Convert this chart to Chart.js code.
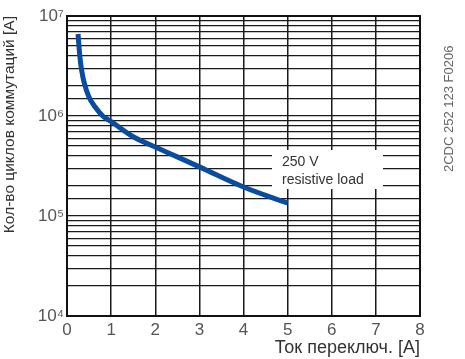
<!DOCTYPE html>
<html>
<head>
<meta charset="utf-8">
<script src="https://cdn.jsdelivr.net/npm/chart.js@4"></script>
<style>
  html, body { margin: 0; padding: 0; background: #fff; }
  #wrap { width: 465px; height: 359px; }
</style>
</head>
<body>
<div id="wrap"><canvas id="chart"></canvas></div>
<script>
// Switching cycles vs current, 250 V resistive load.
const currentA = [0.25, 0.29, 0.33, 0.39, 0.49, 0.62, 0.81, 1, 1.5, 2, 2.5, 3, 4, 5];
const cycles = [6.6e6, 4.0e6, 2.9e6, 2.15e6, 1.58e6, 1.26e6, 1.0e6, 8.8e5, 6.2e5, 4.9e5, 3.9e5, 3.1e5, 1.95e5, 1.35e5];
const decadeLabels = { 10000: "10⁴", 100000: "10⁵", 1000000: "10⁶", 10000000: "10⁷" };
const loadNote = ["250 V", "resistive load"];
const docCode = "2CDC 252 123 F0206";

const tickFont = { family: "'Liberation Sans Narrow', 'Liberation Sans', Arial, sans-serif", size: 17 };

// Frame, note box and the document code at the right edge.
const extras = {
  id: "extras",
  afterDatasetsDraw(chart) {
    const { ctx, chartArea: a } = chart;
    ctx.save();
    ctx.strokeStyle = "#111";
    ctx.lineWidth = 2;
    ctx.strokeRect(a.left, a.top, a.right - a.left, a.bottom - a.top);
    // note box
    ctx.fillStyle = "#fff";
    ctx.fillRect(272, 150, 111, 39);
    ctx.fillStyle = "#333";
    ctx.font = "14px 'Liberation Sans', Arial, sans-serif";
    ctx.textBaseline = "alphabetic";
    ctx.fillText(loadNote[0], 282, 166);
    ctx.fillText(loadNote[1], 282, 184);
    // code
    ctx.translate(453, 172);
    ctx.rotate(-Math.PI / 2);
    ctx.fillStyle = "#666";
    ctx.font = "13px 'Liberation Sans', Arial, sans-serif";
    ctx.fillText(docCode, 0, 0);
    ctx.restore();
  }
};

const chart = new Chart(document.getElementById("chart"), {
  type: "line",
  data: {
    datasets: [{
      data: currentA.map((x, i) => ({ x: x, y: cycles[i] })),
      borderColor: "#0a4d9e",
      borderWidth: 5,
      pointRadius: 0,
      tension: 0.4,
      borderCapStyle: "butt"
    }]
  },
  plugins: [extras],
  options: {
    responsive: true,
    maintainAspectRatio: false,
    animation: false,
    layout: { padding: { top: 16, right: 45, left: 0, bottom: 0 } },
    plugins: { legend: { display: false }, tooltip: { enabled: false } },
    scales: {
      x: {
        type: "linear",
        min: 0,
        max: 8,
        ticks: { stepSize: 1, color: "#555", font: tickFont, padding: 4 },
        grid: { color: "#1a1a1a", lineWidth: 1.5, drawTicks: false },
        border: { display: false },
        title: {
          display: true, text: "Ток переключ. [A]", align: "end",
          color: "#333", font: { family: "'Liberation Sans', Arial, sans-serif", size: 18 },
          padding: { top: 0, bottom: 0 }
        },
        afterFit(scale) { scale.height = 43; }
      },
      y: {
        type: "logarithmic",
        min: 1e4,
        max: 1e7,
        ticks: {
          color: "#555", font: tickFont, padding: 3, autoSkip: false,
          callback: (v) => decadeLabels[v] || ""
        },
        grid: { color: "#1a1a1a", lineWidth: 1.3, drawTicks: false },
        border: { display: false },
        title: {
          display: true, text: "Кол-во циклов коммутаций [A]", align: "end",
          color: "#333", font: { family: "'Liberation Sans', Arial, sans-serif", size: 15.5 },
          padding: { top: 0, bottom: 6 }
        },
        afterFit(scale) { scale.width = 67; }
      }
    }
  }
});
</script>
</body>
</html>
